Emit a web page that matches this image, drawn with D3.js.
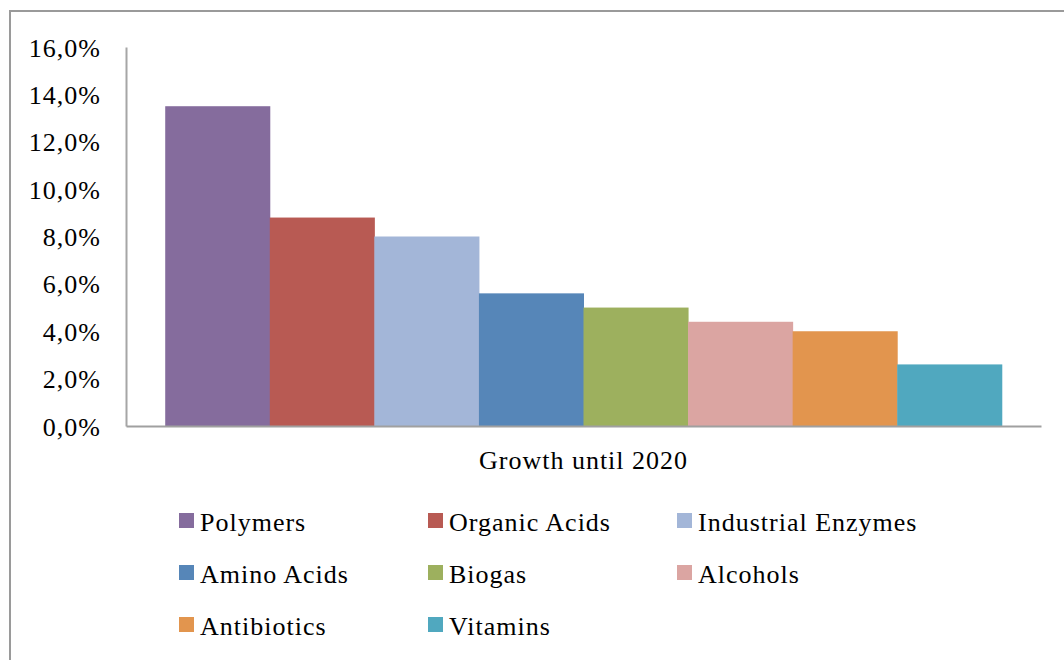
<!DOCTYPE html>
<html>
<head>
<meta charset="utf-8">
<script src="https://cdn.jsdelivr.net/npm/d3@7"></script>
<style>
  html, body { margin: 0; padding: 0; background: #fff; }
  svg { display: block; }
  text { font-family: "Liberation Serif", "DejaVu Serif", serif; fill: #000; letter-spacing: 1px; }
</style>
</head>
<body>
<svg id="chart" width="1064" height="660"></svg>
<script>
// Growth rates by product segment (single category group)
const category = "Growth until 2020";
const series = ["Polymers", "Organic Acids", "Industrial Enzymes", "Amino Acids",
                "Biogas", "Alcohols", "Antibiotics", "Vitamins"];
const values = [0.135, 0.088, 0.080, 0.056, 0.050, 0.044, 0.040, 0.026];
const colors = ["#856c9d", "#b85a53", "#a3b6d8", "#5686b8",
                "#9db05e", "#dba5a2", "#e2954e", "#50a8bf"];
const yTicks = [0, 0.02, 0.04, 0.06, 0.08, 0.10, 0.12, 0.14, 0.16];

const svg = d3.select("#chart");
const W = 1064, H = 660;

// outer chart frame (only top and left edges fall inside the view)
svg.append("rect")
  .attr("x", 10).attr("y", 11)
  .attr("width", W + 20).attr("height", H + 20)
  .attr("fill", "#fff").attr("stroke", "#9a9a9a").attr("stroke-width", 2);

const plot = { left: 126, right: 1041, top: 47, bottom: 426 };

const y = d3.scaleLinear().domain([0, 0.16]).range([plot.bottom, plot.top]);
const x0 = d3.scaleBand().domain([category]).range([plot.left, plot.right]).padding(0);
// gap of 0.75 bar-width split across both ends of the group
const x1 = d3.scaleBand().domain(series).range([0, x0.bandwidth()])
  .paddingInner(0).paddingOuter(0.375);

// bars
svg.append("g")
  .attr("transform", `translate(${x0(category)},0)`)
  .selectAll("rect")
  .data(series)
  .join("rect")
  .attr("x", d => x1(d))
  .attr("y", (d, i) => y(values[i]))
  .attr("width", x1.bandwidth() + 0.5)
  .attr("height", (d, i) => y(0) - y(values[i]))
  .attr("fill", (d, i) => colors[i]);

// y axis
const fmt = v => (v * 100).toFixed(1).replace(".", ",") + "%";
const yAxis = svg.append("g")
  .attr("transform", `translate(${plot.left},0)`)
  .call(d3.axisLeft(y).tickValues(yTicks).tickFormat(fmt).tickSize(0).tickPadding(25));
yAxis.select(".domain").attr("stroke", "#a6a6a6").attr("stroke-width", 2);
yAxis.selectAll("text")
  .style("font-family", '"Liberation Serif", serif')
  .attr("font-size", 26).attr("fill", "#000").attr("dy", "0.35em");

// x axis
const xAxis = svg.append("g")
  .attr("transform", `translate(0,${plot.bottom})`)
  .call(d3.axisBottom(x0).tickSize(0).tickPadding(0));
xAxis.select(".domain").attr("stroke", "#a0a0a0").attr("stroke-width", 2);
xAxis.selectAll("text")
  .style("font-family", '"Liberation Serif", serif')
  .attr("font-size", 26).attr("fill", "#000")
  .attr("y", 43).attr("dy", 0);

// legend
const legendCols = [179, 428, 677];
const legendRows = [531, 583, 635];
const legend = svg.append("g")
  .selectAll("g")
  .data(series)
  .join("g")
  .attr("transform", (d, i) => `translate(${legendCols[i % 3]},${legendRows[Math.floor(i / 3)]})`);
legend.append("rect")
  .attr("x", 0).attr("y", -18).attr("width", 15).attr("height", 15)
  .attr("fill", (d, i) => colors[i]);
legend.append("text")
  .attr("x", 21).attr("y", 0)
  .attr("font-size", 26)
  .text(d => d);
</script>
</body>
</html>
